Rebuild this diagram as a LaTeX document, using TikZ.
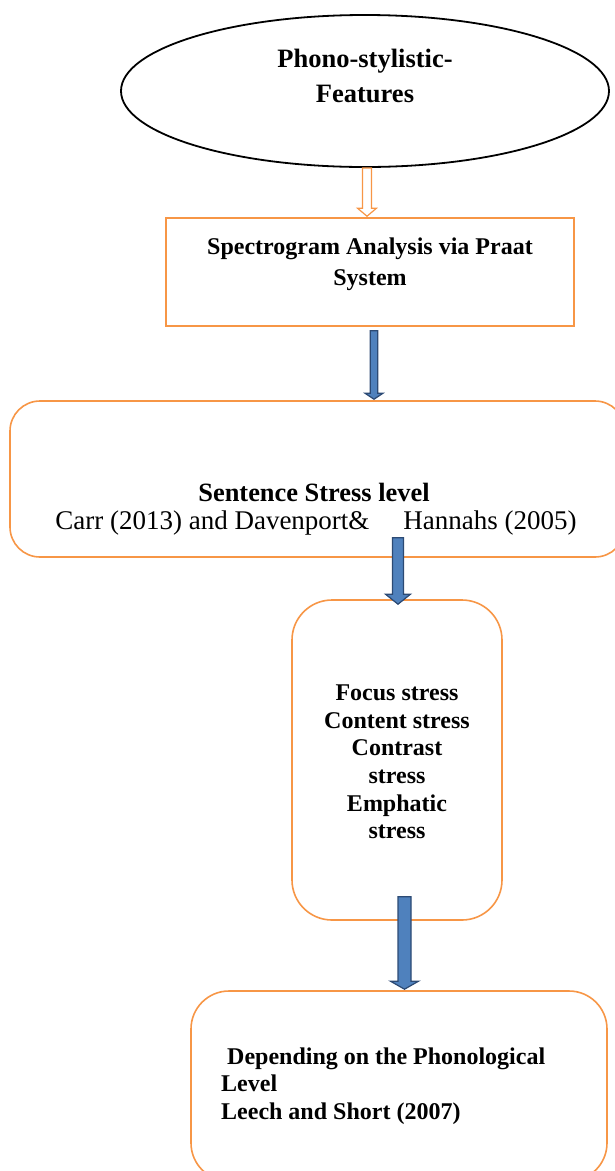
\documentclass[tikz,border=0pt]{standalone}
\usepackage{fontspec}
\setmainfont{Liberation Serif}
\usetikzlibrary{calc,shapes.geometric}
\definecolor{orng}{HTML}{F79646}
\definecolor{bfill}{HTML}{4F81BD}
\definecolor{bline}{HTML}{2C4A74}
\newcommand\blockarr[6]{%
  \path[#6] let \p1=(#1), \p2=(#2) in
    (\x1-#3pt,\y1) -- (\x1+#3pt,\y1) -- (\x1+#3pt,\y2+#5pt) -- (\x1+#4pt,\y2+#5pt)
    -- (\x1,\y2) -- (\x1-#4pt,\y2+#5pt) -- (\x1-#3pt,\y2+#5pt) -- cycle;}
\tikzset{
  obox/.style={draw=orng, line width=1.6pt, fill=white, inner sep=0pt},
  lbl/.style={font=\bfseries\fontsize{24}{28}\selectfont, align=center, inner sep=0pt},
  bluearr/.style={fill=bfill, draw=bline, line width=1.2pt, line join=miter},
  orarr/.style={fill=white, draw=orng, line width=1.2pt, line join=miter}
}
\begin{document}
\begin{tikzpicture}[x=1pt,y=-1pt]
\useasboundingbox (0,0) rectangle (615,1171);
\clip (0,0) rectangle (615,1171);
% shapes
\node[draw=black, line width=1.8pt, ellipse, minimum width=488, minimum height=152, inner sep=0pt] (feat) at (365,91) {};
\node[obox, rectangle, minimum width=408, minimum height=108] (spec) at (370,272) {};
\node[obox, rectangle, rounded corners=30pt, minimum width=615, minimum height=156] (sent) at (317.5,479) {};
\node[obox, rectangle, rounded corners=40pt, minimum width=210, minimum height=320] (types) at (397,760) {};
\node[obox, rectangle, rounded corners=38pt, minimum width=416, minimum height=190] (level) at (399,1086) {};
% texts
\node[lbl, font=\bfseries\fontsize{26.5}{35}\selectfont] (featt) at (365,75.5) {Phono-stylistic-\\Features};
\node[lbl, font=\bfseries\fontsize{24}{31}\selectfont] (spect) at (370,264) {Spectrogram Analysis via Praat\\System};
\node[lbl, font=\bfseries\fontsize{26.4}{28}\selectfont, anchor=base] (sentt) at (314,501) {Sentence Stress level};
\node[lbl, font=\fontsize{27}{28}\selectfont, anchor=base] (sentr) at (316,529) {Carr (2013) and Davenport\&\hspace{34pt}Hannahs (2005)};
\node[lbl, font=\bfseries\fontsize{24}{27.6}\selectfont] (typest) at (397,762) {Focus stress\\Content stress\\Contrast\\stress\\Emphatic\\stress};
\node[lbl, font=\bfseries\fontsize{24}{27.6}\selectfont, align=left, anchor=west] (levelt) at (221,1086) {\hspace{6pt}Depending on the Phonological\\Level\\Leech and Short (2007)};
% connectors
\coordinate (a1s) at ($(feat.south)+(2,0)$);
\coordinate (a1e) at ($(spec.north)+(-3,-1)$);
\coordinate (a2s) at ($(spec.south)+(4,4)$);
\coordinate (a2e) at ($(sent.north)+(56.5,-1)$);
\coordinate (a3s) at ($(sent.south)+(80.5,-20)$);
\coordinate (a3e) at ($(types.north)+(1,5)$);
\coordinate (a4s) at ($(types.south)+(7.5,-24)$);
\coordinate (a4e) at ($(level.north)+(5.5,-1)$);
\blockarr{a1s}{a1e}{4.5}{9.5}{8}{orarr}
\blockarr{a2s}{a2e}{3.8}{9}{6}{bluearr}
\blockarr{a3s}{a3e}{5.5}{12.5}{10}{bluearr}
\blockarr{a4s}{a4e}{6.5}{14}{8}{bluearr}
\end{tikzpicture}
\end{document}
